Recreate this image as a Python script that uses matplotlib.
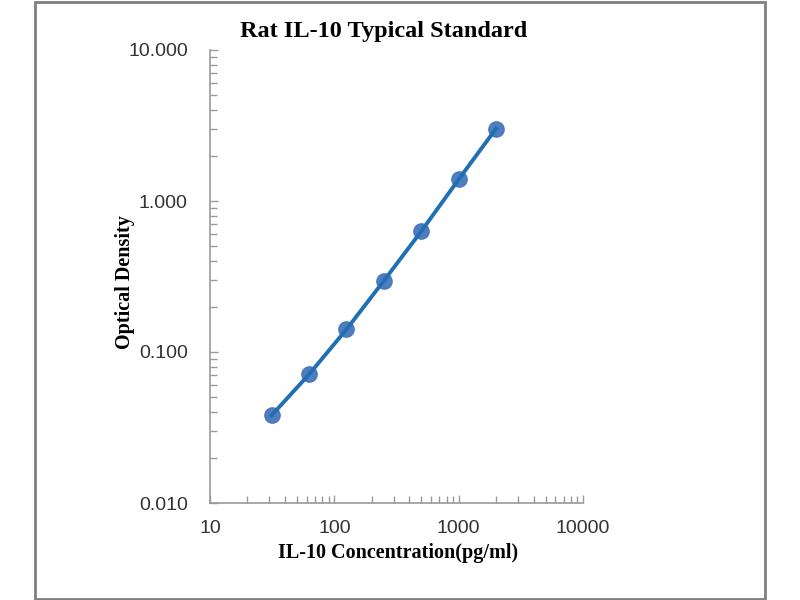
import matplotlib
matplotlib.use("Agg")
import matplotlib.pyplot as plt
from matplotlib.ticker import LogLocator, FixedLocator, NullFormatter, FixedFormatter
from matplotlib.patches import Rectangle

conc = [31.25, 62.5, 125, 250, 500, 1000, 2000]
od = [0.038, 0.071, 0.141, 0.296, 0.63, 1.39, 3.02]
x_ticks = [10, 100, 1000, 10000]
x_labels = ["10", "100", "1000", "10000"]
y_ticks = [0.01, 0.1, 1, 10]
y_labels = ["0.010", "0.100", "1.000", "10.000"]

fig = plt.figure(figsize=(8, 6), dpi=100)
fig.patch.set_facecolor("white")
fig.add_artist(Rectangle((35/800, 1/600), 730/800, 597/600, transform=fig.transFigure,
                         fill=False, edgecolor="#808080", linewidth=2))

ax = fig.add_axes([210/800, 1 - 503/600, 373/800, 453/600])
ax.set_xscale("log")
ax.set_yscale("log")
ax.set_xlim(10, 10000)
ax.set_ylim(0.01, 10)

ax.plot(conc, od, linestyle="none", marker="o", markersize=11,
        markerfacecolor="#4576bd", markeredgecolor="#4576bd", alpha=0.95, zorder=2)
ax.plot(conc, od, color="#1f6fb2", linewidth=2.8, zorder=3)

for s in ["top", "right"]:
    ax.spines[s].set_visible(False)
for s in ["left", "bottom"]:
    ax.spines[s].set_color("#9a9a9a")
    ax.spines[s].set_linewidth(1.2)

ax.xaxis.set_major_locator(FixedLocator(x_ticks))
ax.xaxis.set_major_formatter(FixedFormatter(x_labels))
ax.yaxis.set_major_locator(FixedLocator(y_ticks))
ax.yaxis.set_major_formatter(FixedFormatter(y_labels))
ax.xaxis.set_minor_locator(LogLocator(base=10, subs=range(2, 10)))
ax.yaxis.set_minor_locator(LogLocator(base=10, subs=range(2, 10)))
ax.xaxis.set_minor_formatter(NullFormatter())
ax.yaxis.set_minor_formatter(NullFormatter())

ax.tick_params(axis="both", which="major", direction="in", length=6, width=1,
               color="#9a9a9a", labelsize=14, labelcolor="#333333")
ax.tick_params(axis="both", which="minor", direction="in", length=5, width=1, color="#9a9a9a")
ax.tick_params(axis="x", which="major", pad=12)
ax.tick_params(axis="y", which="major", pad=16)
for lab in ax.get_xticklabels() + ax.get_yticklabels():
    lab.set_fontfamily("Liberation Sans")

fig.text(384/800, 1 - 32/600, "Rat IL-10 Typical Standard", ha="center", va="center",
         fontsize=17.5, fontweight="bold", family="Liberation Serif")
fig.text(398/800, 1 - 553/600, "IL-10 Concentration(pg/ml)", ha="center", va="center",
         fontsize=14.5, fontweight="bold", family="Liberation Serif")
fig.text(125/800, 1 - 282/600, "Optical Density", ha="center", va="center", rotation=90,
         fontsize=14.5, fontweight="bold", family="Liberation Serif")

fig.savefig("out.png", dpi=100)
